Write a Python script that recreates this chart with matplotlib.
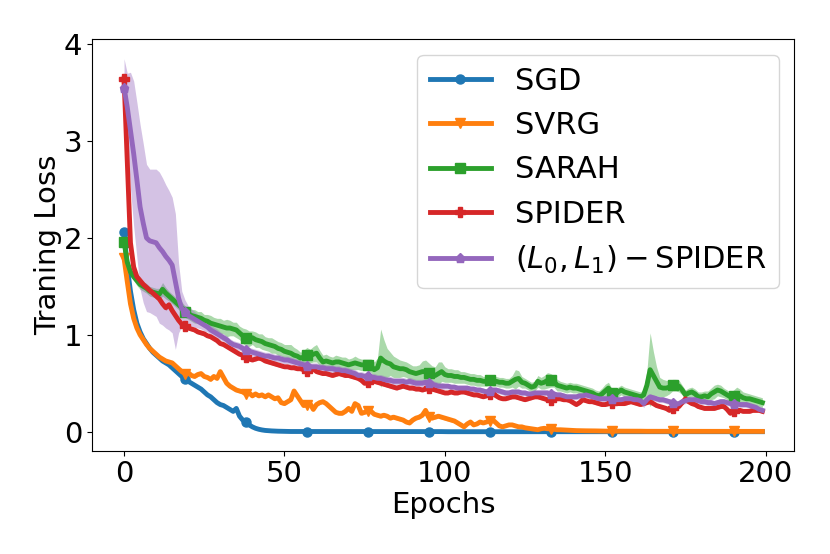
import numpy as np
import matplotlib
matplotlib.use("Agg")
import matplotlib.pyplot as plt

# training loss per epoch (0..199)
epochs = np.arange(200)

sgd = np.array([
    2.06, 1.70, 1.45, 1.26, 1.12, 1.03, 0.96, 0.91, 0.86, 0.82,
    0.79, 0.76, 0.73, 0.71, 0.69, 0.66, 0.63, 0.60, 0.57, 0.54,
    0.52, 0.50, 0.48, 0.46, 0.44, 0.41, 0.38, 0.36, 0.33, 0.30,
    0.28, 0.27, 0.25, 0.23, 0.21, 0.24, 0.16, 0.12, 0.10, 0.07,
    0.05, 0.035, 0.025, 0.018, 0.013, 0.010, 0.008, 0.006, 0.005, 0.004,
    0.003, 0.003, 0.002, 0.002, 0.002, 0.002, 0.001, 0.001, 0.001, 0.001,
    0.001, 0.001, 0.001, 0.001, 0.001, 0.001, 0.001, 0.001, 0.001, 0.001,
    0.001, 0.001, 0.001, 0.001, 0.001, 0.001, 0.001, 0.001, 0.001, 0.001,
    0.001, 0.001, 0.001, 0.001, 0.001, 0.001, 0.001, 0.001, 0.001, 0.001,
    0.001, 0.001, 0.001, 0.001, 0.001, 0.001, 0.001, 0.001, 0.001, 0.001,
    0.0, 0.0, 0.0, 0.0, 0.0, 0.0, 0.0, 0.0, 0.0, 0.0,
    0.0, 0.0, 0.0, 0.0, 0.0, 0.0, 0.0, 0.0, 0.0, 0.0,
    0.0, 0.0, 0.0, 0.0, 0.0, 0.0, 0.0, 0.0, 0.0, 0.0,
    0.0, 0.0, 0.0, 0.0, 0.0, 0.0, 0.0, 0.0, 0.0, 0.0,
    0.0, 0.0, 0.0, 0.0, 0.0, 0.0, 0.0, 0.0, 0.0, 0.0,
    0.0, 0.0, 0.0, 0.0, 0.0, 0.0, 0.0, 0.0, 0.0, 0.0,
    0.0, 0.0, 0.0, 0.0, 0.0, 0.0, 0.0, 0.0, 0.0, 0.0,
    0.0, 0.0, 0.0, 0.0, 0.0, 0.0, 0.0, 0.0, 0.0, 0.0,
    0.0, 0.0, 0.0, 0.0, 0.0, 0.0, 0.0, 0.0, 0.0, 0.0,
    0.0, 0.0, 0.0, 0.0, 0.0, 0.0, 0.0, 0.0, 0.0, 0.0,
])
sgd_std = np.array([
    0.04, 0.03, 0.02, 0.02, 0.015, 0.01, 0.01, 0.01, 0.01, 0.01,
    0.01, 0.01, 0.01, 0.01, 0.01, 0.01, 0.01, 0.01, 0.01, 0.01,
    0.01, 0.01, 0.01, 0.01, 0.01, 0.01, 0.01, 0.01, 0.01, 0.01,
    0.01, 0.01, 0.012, 0.015, 0.02, 0.03, 0.03, 0.02, 0.015, 0.01,
    0.008, 0.006, 0.005, 0.004, 0.003, 0.003, 0.002, 0.002, 0.002, 0.002,
    0.001, 0.001, 0.001, 0.001, 0.001, 0.001, 0.001, 0.001, 0.001, 0.001,
    0.001, 0.001, 0.001, 0.001, 0.001, 0.001, 0.001, 0.001, 0.001, 0.001,
    0.001, 0.001, 0.001, 0.001, 0.001, 0.001, 0.001, 0.001, 0.001, 0.001,
    0.001, 0.001, 0.001, 0.001, 0.001, 0.001, 0.001, 0.001, 0.001, 0.001,
    0.001, 0.001, 0.001, 0.001, 0.001, 0.001, 0.001, 0.001, 0.001, 0.001,
    0.0, 0.0, 0.0, 0.0, 0.0, 0.0, 0.0, 0.0, 0.0, 0.0,
    0.0, 0.0, 0.0, 0.0, 0.0, 0.0, 0.0, 0.0, 0.0, 0.0,
    0.0, 0.0, 0.0, 0.0, 0.0, 0.0, 0.0, 0.0, 0.0, 0.0,
    0.0, 0.0, 0.0, 0.0, 0.0, 0.0, 0.0, 0.0, 0.0, 0.0,
    0.0, 0.0, 0.0, 0.0, 0.0, 0.0, 0.0, 0.0, 0.0, 0.0,
    0.0, 0.0, 0.0, 0.0, 0.0, 0.0, 0.0, 0.0, 0.0, 0.0,
    0.0, 0.0, 0.0, 0.0, 0.0, 0.0, 0.0, 0.0, 0.0, 0.0,
    0.0, 0.0, 0.0, 0.0, 0.0, 0.0, 0.0, 0.0, 0.0, 0.0,
    0.0, 0.0, 0.0, 0.0, 0.0, 0.0, 0.0, 0.0, 0.0, 0.0,
    0.0, 0.0, 0.0, 0.0, 0.0, 0.0, 0.0, 0.0, 0.0, 0.0,
])

svrg = np.array([
    1.79, 1.55, 1.32, 1.17, 1.07, 1.00, 0.95, 0.90, 0.86, 0.83,
    0.80, 0.77, 0.75, 0.73, 0.72, 0.71, 0.68, 0.65, 0.62, 0.60,
    0.61, 0.58, 0.57, 0.59, 0.60, 0.57, 0.56, 0.54, 0.57, 0.55,
    0.62, 0.56, 0.50, 0.47, 0.45, 0.43, 0.42, 0.41, 0.39, 0.40,
    0.37, 0.39, 0.37, 0.38, 0.36, 0.38, 0.36, 0.34, 0.35, 0.30,
    0.29, 0.31, 0.33, 0.42, 0.37, 0.32, 0.27, 0.28, 0.29, 0.23,
    0.28, 0.30, 0.31, 0.29, 0.26, 0.23, 0.20, 0.19, 0.19, 0.21,
    0.24, 0.21, 0.29, 0.27, 0.19, 0.20, 0.21, 0.21, 0.18, 0.17,
    0.16, 0.17, 0.16, 0.14, 0.15, 0.14, 0.13, 0.12, 0.10, 0.09,
    0.12, 0.14, 0.15, 0.17, 0.22, 0.15, 0.14, 0.15, 0.16, 0.15,
    0.14, 0.13, 0.12, 0.11, 0.09, 0.07, 0.05, 0.08, 0.10, 0.07,
    0.08, 0.10, 0.09, 0.10, 0.11, 0.12, 0.09, 0.06, 0.05, 0.06,
    0.07, 0.07, 0.06, 0.05, 0.05, 0.04, 0.035, 0.03, 0.025, 0.02,
    0.03, 0.035, 0.03, 0.03, 0.025, 0.02, 0.02, 0.018, 0.015, 0.013,
    0.012, 0.011, 0.010, 0.010, 0.009, 0.009, 0.008, 0.008, 0.007, 0.007,
    0.006, 0.006, 0.006, 0.006, 0.005, 0.005, 0.005, 0.005, 0.005, 0.005,
    0.005, 0.005, 0.004, 0.004, 0.004, 0.004, 0.004, 0.004, 0.004, 0.004,
    0.004, 0.004, 0.004, 0.004, 0.004, 0.004, 0.003, 0.003, 0.003, 0.003,
    0.003, 0.003, 0.003, 0.003, 0.003, 0.003, 0.003, 0.003, 0.003, 0.003,
    0.003, 0.003, 0.003, 0.003, 0.003, 0.003, 0.003, 0.003, 0.003, 0.003,
])
svrg_std = np.array([
    0.03, 0.03, 0.03, 0.02, 0.02, 0.02, 0.02, 0.02, 0.02, 0.02,
    0.02, 0.02, 0.02, 0.02, 0.02, 0.02, 0.02, 0.02, 0.02, 0.02,
    0.02, 0.02, 0.02, 0.02, 0.02, 0.02, 0.02, 0.02, 0.02, 0.02,
    0.03, 0.02, 0.02, 0.02, 0.02, 0.02, 0.02, 0.02, 0.02, 0.02,
    0.02, 0.02, 0.02, 0.02, 0.02, 0.02, 0.02, 0.02, 0.02, 0.02,
    0.02, 0.02, 0.02, 0.03, 0.02, 0.02, 0.02, 0.02, 0.02, 0.02,
    0.02, 0.02, 0.02, 0.02, 0.02, 0.02, 0.02, 0.02, 0.02, 0.02,
    0.02, 0.02, 0.02, 0.02, 0.02, 0.02, 0.02, 0.02, 0.02, 0.02,
    0.02, 0.02, 0.02, 0.02, 0.02, 0.02, 0.02, 0.02, 0.02, 0.02,
    0.02, 0.02, 0.02, 0.02, 0.03, 0.02, 0.02, 0.02, 0.02, 0.02,
    0.02, 0.02, 0.02, 0.02, 0.02, 0.02, 0.01, 0.01, 0.01, 0.01,
    0.01, 0.01, 0.01, 0.01, 0.01, 0.01, 0.01, 0.01, 0.01, 0.01,
    0.01, 0.01, 0.01, 0.01, 0.01, 0.01, 0.01, 0.01, 0.01, 0.01,
    0.01, 0.01, 0.01, 0.01, 0.01, 0.01, 0.01, 0.01, 0.01, 0.01,
    0.005, 0.005, 0.005, 0.005, 0.005, 0.005, 0.005, 0.005, 0.005, 0.005,
    0.005, 0.005, 0.005, 0.005, 0.005, 0.005, 0.005, 0.005, 0.005, 0.005,
    0.005, 0.005, 0.005, 0.005, 0.005, 0.005, 0.005, 0.005, 0.005, 0.005,
    0.005, 0.005, 0.005, 0.005, 0.005, 0.005, 0.005, 0.005, 0.005, 0.005,
    0.005, 0.005, 0.005, 0.005, 0.005, 0.005, 0.005, 0.005, 0.005, 0.005,
    0.005, 0.005, 0.005, 0.005, 0.005, 0.005, 0.005, 0.005, 0.005, 0.005,
])

sarah = np.array([
    1.96, 1.75, 1.65, 1.60, 1.56, 1.52, 1.50, 1.48, 1.45, 1.44,
    1.43, 1.42, 1.47, 1.43, 1.40, 1.37, 1.34, 1.31, 1.28, 1.24,
    1.22, 1.20, 1.19, 1.18, 1.17, 1.15, 1.14, 1.12, 1.11, 1.10,
    1.09, 1.08, 1.07, 1.07, 1.06, 1.05, 1.02, 0.99, 0.97, 0.96,
    0.97, 0.95, 0.94, 0.93, 0.91, 0.90, 0.89, 0.88, 0.86, 0.85,
    0.83, 0.82, 0.81, 0.79, 0.78, 0.76, 0.77, 0.79, 0.78, 0.80,
    0.81, 0.76, 0.72, 0.73, 0.72, 0.71, 0.72, 0.72, 0.71, 0.70,
    0.69, 0.70, 0.71, 0.70, 0.69, 0.69, 0.69, 0.68, 0.64, 0.66,
    0.76, 0.73, 0.71, 0.70, 0.67, 0.66, 0.65, 0.65, 0.64, 0.62,
    0.61, 0.60, 0.61, 0.62, 0.62, 0.61, 0.59, 0.58, 0.60, 0.62,
    0.59, 0.58, 0.58, 0.57, 0.57, 0.56, 0.56, 0.55, 0.54, 0.54,
    0.53, 0.53, 0.52, 0.52, 0.53, 0.52, 0.52, 0.51, 0.51, 0.50,
    0.50, 0.52, 0.54, 0.55, 0.51, 0.50, 0.48, 0.46, 0.47, 0.52,
    0.50, 0.51, 0.53, 0.53, 0.52, 0.48, 0.47, 0.46, 0.45, 0.46,
    0.45, 0.45, 0.44, 0.43, 0.42, 0.41, 0.40, 0.38, 0.37, 0.39,
    0.42, 0.45, 0.40, 0.38, 0.41, 0.43, 0.41, 0.40, 0.39, 0.38,
    0.37, 0.36, 0.38, 0.48, 0.64, 0.58, 0.52, 0.46, 0.45, 0.45,
    0.46, 0.48, 0.48, 0.47, 0.43, 0.38, 0.40, 0.41, 0.39, 0.36,
    0.36, 0.37, 0.36, 0.39, 0.41, 0.43, 0.42, 0.40, 0.38, 0.36,
    0.37, 0.38, 0.37, 0.35, 0.34, 0.34, 0.33, 0.32, 0.31, 0.30,
])
sarah_std = np.array([
    0.03, 0.04, 0.04, 0.04, 0.05, 0.05, 0.05, 0.05, 0.05, 0.05,
    0.05, 0.06, 0.07, 0.06, 0.05, 0.05, 0.05, 0.05, 0.06, 0.06,
    0.06, 0.06, 0.07, 0.06, 0.07, 0.06, 0.07, 0.08, 0.07, 0.07,
    0.08, 0.07, 0.09, 0.08, 0.07, 0.08, 0.07, 0.08, 0.09, 0.08,
    0.07, 0.08, 0.07, 0.08, 0.07, 0.07, 0.08, 0.07, 0.07, 0.07,
    0.07, 0.08, 0.09, 0.08, 0.07, 0.06, 0.07, 0.08, 0.07, 0.08,
    0.09, 0.08, 0.07, 0.07, 0.06, 0.06, 0.07, 0.06, 0.06, 0.07,
    0.06, 0.06, 0.07, 0.06, 0.06, 0.06, 0.06, 0.07, 0.08, 0.10,
    0.30, 0.22, 0.15, 0.12, 0.11, 0.10, 0.09, 0.08, 0.08, 0.08,
    0.07, 0.08, 0.08, 0.11, 0.12, 0.10, 0.09, 0.09, 0.12, 0.10,
    0.08, 0.07, 0.07, 0.07, 0.07, 0.06, 0.06, 0.06, 0.06, 0.06,
    0.06, 0.06, 0.05, 0.05, 0.05, 0.05, 0.05, 0.05, 0.05, 0.05,
    0.05, 0.06, 0.10, 0.08, 0.06, 0.05, 0.05, 0.05, 0.05, 0.06,
    0.06, 0.07, 0.08, 0.07, 0.06, 0.06, 0.05, 0.05, 0.05, 0.05,
    0.05, 0.05, 0.05, 0.05, 0.05, 0.05, 0.05, 0.05, 0.05, 0.06,
    0.07, 0.06, 0.05, 0.05, 0.05, 0.05, 0.05, 0.05, 0.05, 0.05,
    0.05, 0.05, 0.06, 0.15, 0.38, 0.25, 0.15, 0.10, 0.09, 0.08,
    0.07, 0.06, 0.06, 0.06, 0.05, 0.05, 0.05, 0.05, 0.05, 0.05,
    0.05, 0.05, 0.06, 0.06, 0.07, 0.06, 0.06, 0.05, 0.05, 0.05,
    0.06, 0.08, 0.07, 0.06, 0.06, 0.05, 0.05, 0.05, 0.05, 0.05,
])

spider = np.array([
    3.64, 2.80, 1.95, 1.70, 1.60, 1.56, 1.52, 1.49, 1.46, 1.43,
    1.40, 1.37, 1.32, 1.28, 1.31, 1.25, 1.20, 1.15, 1.11, 1.09,
    1.07, 1.06, 1.05, 1.03, 1.02, 1.01, 0.99, 0.98, 0.96, 0.94,
    0.91, 0.90, 0.88, 0.86, 0.84, 0.82, 0.80, 0.79, 0.77, 0.75,
    0.74, 0.75, 0.76, 0.75, 0.73, 0.72, 0.71, 0.70, 0.69, 0.68,
    0.67, 0.67, 0.66, 0.66, 0.65, 0.65, 0.64, 0.63, 0.62, 0.65,
    0.62, 0.61, 0.60, 0.60, 0.59, 0.58, 0.59, 0.60, 0.59, 0.58,
    0.58, 0.57, 0.56, 0.55, 0.53, 0.50, 0.51, 0.52, 0.52, 0.51,
    0.50, 0.49, 0.48, 0.47, 0.46, 0.45, 0.46, 0.47, 0.46, 0.45,
    0.45, 0.44, 0.44, 0.43, 0.44, 0.45, 0.44, 0.43, 0.42, 0.41,
    0.40, 0.40, 0.41, 0.40, 0.40, 0.41, 0.41, 0.40, 0.39, 0.38,
    0.38, 0.37, 0.36, 0.37, 0.39, 0.40, 0.37, 0.35, 0.34, 0.34,
    0.35, 0.36, 0.36, 0.35, 0.34, 0.33, 0.34, 0.35, 0.36, 0.36,
    0.35, 0.34, 0.33, 0.33, 0.34, 0.34, 0.34, 0.33, 0.33, 0.32,
    0.30, 0.28, 0.30, 0.33, 0.32, 0.31, 0.31, 0.30, 0.29, 0.28,
    0.28, 0.29, 0.30, 0.29, 0.29, 0.29, 0.29, 0.30, 0.31, 0.30,
    0.29, 0.28, 0.29, 0.30, 0.31, 0.29, 0.27, 0.26, 0.25, 0.24,
    0.22, 0.24, 0.26, 0.26, 0.30, 0.34, 0.31, 0.29, 0.28, 0.26,
    0.25, 0.24, 0.24, 0.24, 0.24, 0.25, 0.26, 0.26, 0.23, 0.19,
    0.21, 0.22, 0.22, 0.21, 0.21, 0.21, 0.22, 0.22, 0.22, 0.21,
])
spider_std = np.array([
    0.03, 0.05, 0.04, 0.03, 0.03, 0.03, 0.03, 0.03, 0.03, 0.03,
    0.03, 0.03, 0.03, 0.03, 0.03, 0.03, 0.03, 0.03, 0.03, 0.03,
    0.02, 0.02, 0.02, 0.02, 0.02, 0.02, 0.02, 0.02, 0.02, 0.02,
    0.02, 0.02, 0.02, 0.02, 0.02, 0.02, 0.02, 0.02, 0.02, 0.02,
    0.02, 0.02, 0.02, 0.02, 0.02, 0.02, 0.02, 0.02, 0.02, 0.02,
    0.02, 0.02, 0.02, 0.02, 0.02, 0.02, 0.02, 0.02, 0.02, 0.02,
    0.02, 0.02, 0.02, 0.02, 0.02, 0.02, 0.02, 0.02, 0.02, 0.02,
    0.02, 0.02, 0.02, 0.02, 0.02, 0.02, 0.02, 0.02, 0.02, 0.02,
    0.02, 0.02, 0.02, 0.02, 0.02, 0.02, 0.02, 0.02, 0.02, 0.02,
    0.02, 0.02, 0.02, 0.02, 0.02, 0.02, 0.02, 0.02, 0.02, 0.02,
    0.02, 0.02, 0.02, 0.02, 0.02, 0.02, 0.02, 0.02, 0.02, 0.02,
    0.02, 0.02, 0.02, 0.02, 0.02, 0.02, 0.02, 0.02, 0.02, 0.02,
    0.02, 0.02, 0.02, 0.02, 0.02, 0.02, 0.02, 0.02, 0.02, 0.02,
    0.02, 0.02, 0.02, 0.02, 0.02, 0.02, 0.02, 0.02, 0.02, 0.02,
    0.02, 0.02, 0.02, 0.02, 0.02, 0.02, 0.02, 0.02, 0.02, 0.02,
    0.02, 0.02, 0.02, 0.02, 0.02, 0.02, 0.02, 0.02, 0.02, 0.02,
    0.02, 0.02, 0.02, 0.02, 0.02, 0.02, 0.02, 0.02, 0.02, 0.02,
    0.02, 0.02, 0.02, 0.02, 0.02, 0.02, 0.02, 0.02, 0.02, 0.02,
    0.02, 0.02, 0.02, 0.02, 0.02, 0.02, 0.02, 0.02, 0.02, 0.02,
    0.02, 0.02, 0.02, 0.02, 0.02, 0.02, 0.02, 0.02, 0.02, 0.02,
])

l0l1_spider = np.array([
    3.55, 3.35, 3.11, 2.87, 2.60, 2.32, 2.15, 2.00, 1.97, 1.96,
    1.95, 1.90, 1.86, 1.81, 1.77, 1.72, 1.55, 1.38, 1.27, 1.24,
    1.20, 1.18, 1.16, 1.14, 1.12, 1.10, 1.08, 1.05, 1.03, 1.01,
    0.99, 0.97, 0.95, 0.92, 0.90, 0.89, 0.88, 0.86, 0.84, 0.83,
    0.82, 0.81, 0.80, 0.79, 0.78, 0.78, 0.77, 0.76, 0.76, 0.75,
    0.74, 0.74, 0.73, 0.72, 0.71, 0.70, 0.69, 0.68, 0.67, 0.67,
    0.67, 0.66, 0.66, 0.65, 0.65, 0.65, 0.64, 0.64, 0.63, 0.63,
    0.62, 0.61, 0.60, 0.58, 0.58, 0.57, 0.57, 0.56, 0.56, 0.55,
    0.55, 0.54, 0.53, 0.53, 0.52, 0.52, 0.52, 0.52, 0.51, 0.52,
    0.51, 0.50, 0.50, 0.50, 0.51, 0.50, 0.49, 0.48, 0.47, 0.47,
    0.47, 0.47, 0.46, 0.46, 0.45, 0.45, 0.45, 0.45, 0.44, 0.44,
    0.43, 0.43, 0.42, 0.41, 0.42, 0.43, 0.43, 0.42, 0.41, 0.40,
    0.40, 0.41, 0.41, 0.41, 0.40, 0.40, 0.39, 0.39, 0.40, 0.40,
    0.40, 0.40, 0.40, 0.39, 0.39, 0.38, 0.38, 0.37, 0.36, 0.36,
    0.36, 0.36, 0.37, 0.37, 0.38, 0.37, 0.36, 0.35, 0.34, 0.34,
    0.34, 0.34, 0.34, 0.33, 0.33, 0.33, 0.34, 0.34, 0.34, 0.33,
    0.33, 0.32, 0.29, 0.33, 0.36, 0.35, 0.34, 0.33, 0.33, 0.32,
    0.31, 0.30, 0.28, 0.29, 0.31, 0.32, 0.33, 0.33, 0.33, 0.32,
    0.31, 0.31, 0.30, 0.30, 0.29, 0.30, 0.31, 0.31, 0.30, 0.29,
    0.29, 0.29, 0.28, 0.28, 0.28, 0.27, 0.26, 0.25, 0.23, 0.22,
])
l0l1_spider_std = np.array([
    0.30, 0.35, 0.60, 0.75, 0.80, 0.85, 0.82, 0.76, 0.74, 0.75,
    0.76, 0.78, 0.76, 0.74, 0.72, 0.70, 0.70, 0.36, 0.18, 0.12,
    0.10, 0.09, 0.08, 0.07, 0.06, 0.06, 0.05, 0.05, 0.05, 0.05,
    0.04, 0.04, 0.04, 0.04, 0.04, 0.04, 0.04, 0.04, 0.04, 0.04,
    0.04, 0.04, 0.04, 0.04, 0.04, 0.04, 0.04, 0.04, 0.04, 0.04,
    0.04, 0.04, 0.04, 0.04, 0.04, 0.04, 0.04, 0.04, 0.04, 0.04,
    0.04, 0.04, 0.04, 0.04, 0.04, 0.04, 0.04, 0.04, 0.04, 0.04,
    0.04, 0.04, 0.04, 0.04, 0.04, 0.04, 0.04, 0.04, 0.04, 0.04,
    0.04, 0.04, 0.04, 0.04, 0.04, 0.04, 0.04, 0.04, 0.04, 0.04,
    0.04, 0.04, 0.04, 0.04, 0.04, 0.04, 0.04, 0.04, 0.04, 0.04,
    0.03, 0.03, 0.03, 0.03, 0.03, 0.03, 0.03, 0.03, 0.03, 0.03,
    0.03, 0.03, 0.03, 0.03, 0.03, 0.03, 0.03, 0.03, 0.03, 0.03,
    0.03, 0.03, 0.03, 0.03, 0.03, 0.03, 0.03, 0.03, 0.03, 0.03,
    0.03, 0.03, 0.03, 0.03, 0.03, 0.03, 0.03, 0.03, 0.03, 0.03,
    0.03, 0.03, 0.03, 0.03, 0.03, 0.03, 0.03, 0.03, 0.03, 0.03,
    0.03, 0.03, 0.03, 0.03, 0.03, 0.03, 0.03, 0.03, 0.03, 0.03,
    0.03, 0.03, 0.04, 0.03, 0.03, 0.03, 0.03, 0.03, 0.03, 0.03,
    0.03, 0.03, 0.04, 0.03, 0.03, 0.03, 0.03, 0.03, 0.03, 0.03,
    0.03, 0.03, 0.03, 0.03, 0.03, 0.03, 0.03, 0.03, 0.03, 0.03,
    0.03, 0.03, 0.03, 0.03, 0.03, 0.03, 0.03, 0.03, 0.03, 0.03,
])

labels = ["SGD", "SVRG", "SARAH", "SPIDER", r"$(L_0,L_1)-$SPIDER"]
markers = ["o", "v", "s", "P", "p"]
colors = ["C0", "C1", "C2", "C3", "C4"]
means = [sgd, svrg, sarah, spider, l0l1_spider]
stds = [sgd_std, svrg_std, sarah_std, spider_std, l0l1_spider_std]

fig, ax = plt.subplots(figsize=(8.3, 5.54), dpi=100)
fig.subplots_adjust(left=0.111, right=0.957, top=0.929, bottom=0.1865)

for m, s, lab, mk, c in zip(means, stds, labels, markers, colors):
    ax.plot(epochs, m, color=c, marker=mk, markevery=19, markersize=6.5,
            linewidth=3.5, label=lab)
    ax.fill_between(epochs, m - s, m + s, color=c, alpha=0.4, linewidth=0)

ax.set_xlim(-9.95, 208.95)
ax.set_ylim(-0.196, 4.05)
ax.set_xticks([0, 50, 100, 150, 200])
ax.set_yticks([0, 1, 2, 3, 4])
ax.tick_params(labelsize=21)
ax.set_xlabel("Epochs", fontsize=21, labelpad=2)
ax.set_ylabel("Traning Loss", fontsize=21, labelpad=1)
ax.legend(loc="upper right", fontsize=22)

fig.savefig("out.png", dpi=100)
